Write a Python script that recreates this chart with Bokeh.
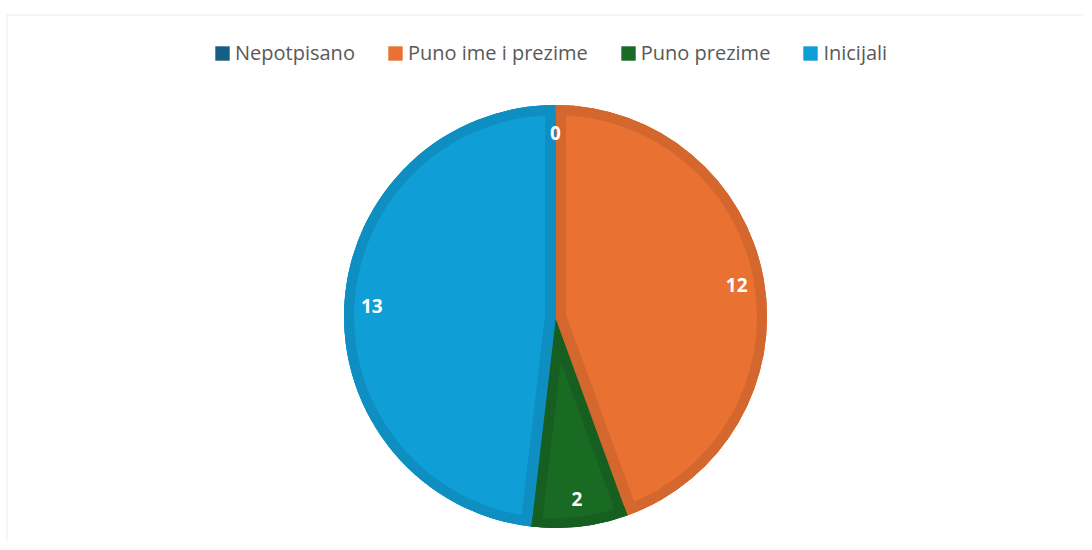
import numpy as np
from bokeh.plotting import figure
from bokeh.models import (ColumnDataSource, Legend, LegendItem, BoxAnnotation,
                          Range1d, CDSView, IndexFilter)
from bokeh.core.properties import value
from bokeh.embed import file_html
from bokeh.resources import INLINE

# ---- data ----
categories = ["Nepotpisano", "Puno ime i prezime", "Puno prezime", "Inicijali"]
values = [0, 12, 2, 13]
fill_colors = ["#156082", "#E97132", "#196B24", "#0F9ED5"]
band_colors = ["#135675", "#D4672D", "#165F20", "#0E8EC1"]

# ---- layout (data units == screen px) ----
W, H = 1084, 542
cx, cy = 555.0, 226.0
R = 211.5
BAND = 10.0
LABEL_R = 184.0

vals = np.array(values, dtype=float)
total = vals.sum()
cum = np.cumsum(vals)
start = np.pi / 2 - 2 * np.pi * (cum - vals) / total
end = np.pi / 2 - 2 * np.pi * cum / total
mid = (start + end) / 2

src = ColumnDataSource(dict(
    cat=categories,
    val=values,
    start=start,
    end=end,
    rad=np.where(vals > 0, R, 0.0),
    fill=fill_colors,
    band=band_colors,
    x=[cx] * len(values),
    y=[cy] * len(values),
    lx=cx + LABEL_R * np.cos(mid),
    ly=cy + LABEL_R * np.sin(mid),
    txt=[str(v) for v in values],
))

p = figure(width=W, height=H, output_backend="svg", toolbar_location=None,
           x_range=Range1d(0, W), y_range=Range1d(0, H),
           min_border=0, min_border_left=0, min_border_right=0,
           min_border_top=0, min_border_bottom=0)
p.axis.visible = False
p.grid.visible = False
p.outline_line_color = None
p.background_fill_color = "white"
p.border_fill_color = "white"

# chart frame border (only top and left visible in window)
p.add_layout(BoxAnnotation(left=6.5, right=5000, top=H - 14.5, bottom=-5000,
                           fill_alpha=0, line_color="#D9D9D9", line_width=1.5))

# base fills (also used for legend)
r_fill = p.wedge(x="x", y="y", radius="rad", start_angle="start", end_angle="end",
                 direction="clock", fill_color="fill", line_color=None, source=src)

# per-slice fills + darker inner bands, smallest slice first
order = [int(i) for i in np.argsort(vals, kind="stable") if vals[i] > 0]
for i in order:
    view = CDSView(filter=IndexFilter([i]))
    p.wedge(x="x", y="y", radius=R, start_angle="start", end_angle="end",
            direction="clock", fill_color="fill", line_color=None,
            source=src, view=view)
    p.annular_wedge(x="x", y="y", inner_radius=R - BAND, outer_radius=R,
                    start_angle="start", end_angle="end", direction="clock",
                    fill_color="band", line_color=None, source=src, view=view)
    a = np.array([start[i], end[i]])
    n = np.array([start[i] - np.pi / 2, end[i] + np.pi / 2])
    off = BAND / 2
    x0 = cx + off * np.cos(n)
    y0 = cy + off * np.sin(n)
    L = R - BAND + 1
    seg = ColumnDataSource(dict(x0=x0, y0=y0,
                                x1=x0 + L * np.cos(a), y1=y0 + L * np.sin(a)))
    p.segment(x0="x0", y0="y0", x1="x1", y1="y1", source=seg,
              line_color=band_colors[i], line_width=BAND + 1, line_cap="butt")

# data labels
p.text(x="lx", y="ly", text="txt", source=src, text_color="white",
       text_font=value("Open Sans"), text_font_style="bold",
       text_font_size="19px", text_align="center", text_baseline="middle")

legend = Legend(items=[LegendItem(label=categories[i], renderers=[r_fill], index=i)
                       for i in range(len(categories))],
                orientation="horizontal", location=(213, 476),
                spacing=31, label_standoff=4, glyph_width=18, glyph_height=18,
                padding=0, margin=0, border_line_color=None,
                background_fill_alpha=0,
                label_text_font="Open Sans", label_text_font_size="20px",
                label_text_color="#595959")
p.add_layout(legend)

open("out.html", "w").write(file_html(p, INLINE))
